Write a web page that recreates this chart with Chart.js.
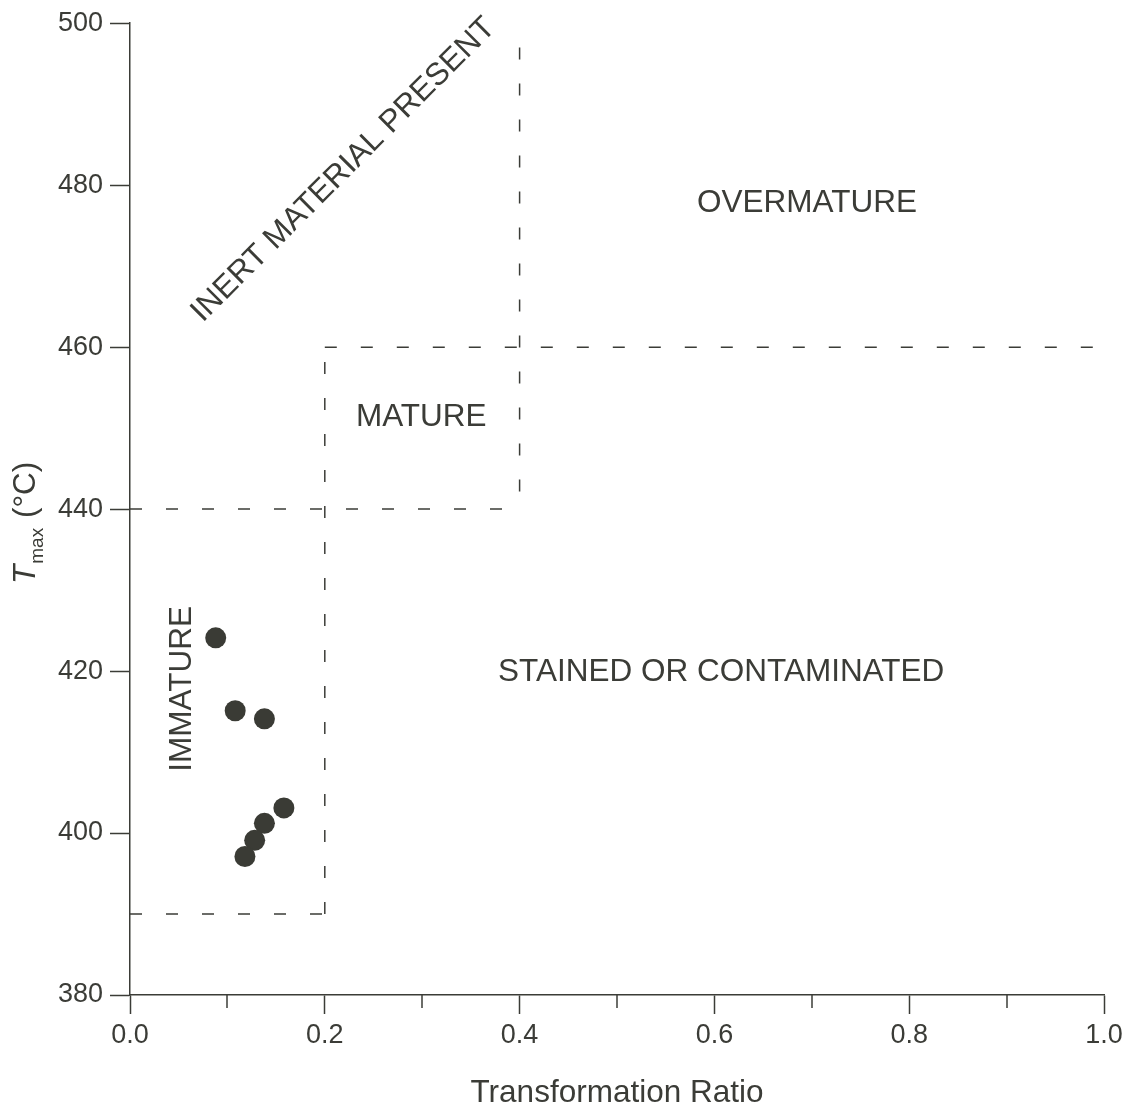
<!DOCTYPE html>
<html>
<head>
<meta charset="utf-8">
<script src="https://cdn.jsdelivr.net/npm/chart.js@4.4.1/dist/chart.umd.min.js"></script>
<style>
  html, body { margin: 0; padding: 0; background: #ffffff; }
  #wrap { width: 1130px; height: 1111px; position: relative; }
</style>
</head>
<body>
<div id="wrap"><canvas id="c" width="1130" height="1111"></canvas></div>
<script>
// ---- data ----
const transformationRatio = [0.088, 0.108, 0.138, 0.158, 0.138, 0.128, 0.118];
const tmaxValues = [424.1, 415.1, 414.1, 403.1, 401.2, 399.1, 397.1];

const xTickValues = [0, 0.2, 0.4, 0.6, 0.8, 1.0];
const yTickValues = [380, 400, 420, 440, 460, 480, 500];

// dashed boundary lines (x pairs / y pairs)
const boundaryX = [[0, 0.2], [0.2, 0.2], [0, 0.4], [0.2, 1.0], [0.4, 0.4]];
const boundaryY = [[390, 390], [390, 460], [440, 440], [460, 460], [497, 440]];

// region labels (anchor in data units)
const regionLabels = ['OVERMATURE', 'MATURE', 'STAINED OR CONTAMINATED', 'IMMATURE', 'INERT MATERIAL PRESENT'];
const regionX = [0.695, 0.299, 0.607, 0.0513, 0.2174];
const regionY = [478.1, 451.7, 420.2, 417.8, 482.1];

const xTitle = 'Transformation Ratio';
const yTitleMain = 'T';
const yTitleSub = 'max';
const yTitleUnit = '(°C)';

// ---- styles ----
const INK = '#3b3c37';
const FONT = '"Liberation Sans", Arial, Helvetica, sans-serif';
const regionAngles = [0, 0, 0, -90, -45];
const BIG = 31.5;

const datasets = [{
  label: 'samples',
  data: transformationRatio.map((x, i) => ({ x: x, y: tmaxValues[i] })),
  backgroundColor: '#3a3b35',
  borderWidth: 0,
  pointRadius: 10.5,
  pointHoverRadius: 10.5,
  showLine: false,
  order: 0
}];
boundaryX.forEach((xs, i) => {
  datasets.push({
    type: 'line',
    label: 'boundary' + i,
    data: xs.map((x, j) => ({ x: x, y: boundaryY[i][j] })),
    borderColor: INK,
    borderWidth: 1.5,
    borderDash: [12, 24],
    pointRadius: 0,
    fill: false,
    tension: 0,
    order: 1
  });
});

const decorPlugin = {
  id: 'decor',
  afterDraw(chart) {
    const ctx = chart.ctx;
    const xs = chart.scales.x, ys = chart.scales.y;
    const area = chart.chartArea;
    ctx.save();
    // minor x ticks
    ctx.strokeStyle = INK;
    ctx.lineWidth = 1.5;
    for (let k = 1; k < 10; k += 2) {
      const px = Math.round(xs.getPixelForValue(k / 10));
      ctx.beginPath();
      ctx.moveTo(px, area.bottom);
      ctx.lineTo(px, area.bottom + 13);
      ctx.stroke();
    }
    // region labels
    ctx.fillStyle = INK;
    ctx.font = BIG + 'px ' + FONT;
    ctx.textAlign = 'center';
    ctx.textBaseline = 'alphabetic';
    regionLabels.forEach((t, i) => {
      const px = xs.getPixelForValue(regionX[i]);
      const py = ys.getPixelForValue(regionY[i]);
      ctx.save();
      ctx.translate(px, py);
      ctx.rotate(regionAngles[i] * Math.PI / 180);
      ctx.fillText(t, 0, BIG * 0.358);
      ctx.restore();
    });
    // x title
    ctx.font = BIG + 'px ' + FONT;
    ctx.textAlign = 'center';
    ctx.fillText(xTitle, (area.left + area.right) / 2, 1102);
    // y title
    ctx.save();
    ctx.translate(35, 584);
    ctx.rotate(-Math.PI / 2);
    ctx.textAlign = 'left';
    ctx.font = 'italic ' + BIG + 'px ' + FONT;
    ctx.fillText(yTitleMain, 0, 0);
    const tw = ctx.measureText(yTitleMain).width;
    ctx.font = '19px ' + FONT;
    ctx.fillText(yTitleSub, tw + 1, 8);
    ctx.font = BIG + 'px ' + FONT;
    ctx.fillText(yTitleUnit, 66, 0);
    ctx.restore();
    ctx.restore();
  }
};

new Chart(document.getElementById('c'), {
  type: 'scatter',
  data: { datasets: datasets },
  options: {
    responsive: false,
    animation: false,
    devicePixelRatio: 1,
    layout: { padding: { top: 21, right: 26, left: 0, bottom: 0 } },
    plugins: { legend: { display: false }, tooltip: { enabled: false } },
    scales: {
      x: {
        type: 'linear',
        min: 0, max: 1,
        afterFit(s) { s.height = 116; },
        afterBuildTicks(s) {
          const t = [];
          for (let k = 0; k <= 10; k++) t.push({ value: k / 10 });
          s.ticks = t;
        },
        ticks: {
          autoSkip: false, maxRotation: 0, padding: 5,
          color: INK,
          font: { family: FONT, size: 27 },
          callback(v) {
            const k = Math.round(v * 10);
            const hit = xTickValues.find(q => Math.round(q * 10) === k);
            return hit !== undefined ? hit.toFixed(1) : '';
          }
        },
        grid: {
          display: true, drawOnChartArea: false, drawTicks: true,
          tickLength: 19, tickWidth: 1.5,
          tickColor(c) {
            const k = Math.round(c.tick.value * 10);
            return k % 2 === 0 ? INK : 'rgba(0,0,0,0)';
          }
        },
        border: { display: true, color: INK, width: 1.5 }
      },
      y: {
        type: 'linear',
        min: 380, max: 500,
        afterFit(s) { s.width = 130; },
        afterBuildTicks(s) { s.ticks = yTickValues.map(v => ({ value: v })); },
        ticks: {
          padding: 7, color: INK,
          font: { family: FONT, size: 27 },
          callback(v) { return String(v); }
        },
        grid: {
          display: true, drawOnChartArea: false, drawTicks: true,
          tickLength: 20, tickWidth: 1.5, tickColor: INK
        },
        border: { display: true, color: INK, width: 1.5 }
      }
    }
  },
  plugins: [decorPlugin]
});
</script>
</body>
</html>
